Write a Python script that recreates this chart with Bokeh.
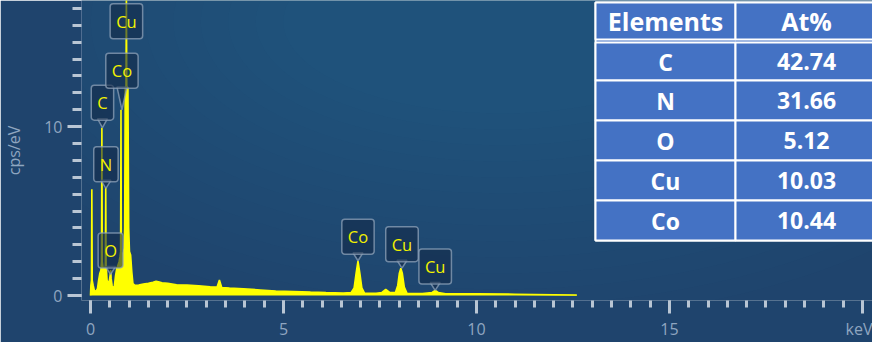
import math
from bokeh.plotting import figure
from bokeh.models import Range1d, FixedTicker, BoxAnnotation, Label, ColumnDataSource
from bokeh.core.properties import value
from bokeh.embed import file_html
from bokeh.resources import INLINE

# ---------------- data ----------------
energy_keV = [
    0.00, 0.01, 0.025, 0.035, 0.045, 0.07, 0.10, 0.14, 0.18, 0.21, 0.24, 0.27, 0.285, 0.295, 0.305,
    0.33, 0.36, 0.385, 0.395, 0.405, 0.43, 0.46, 0.49, 0.515, 0.525, 0.535, 0.56, 0.59, 0.62, 0.65,
    0.68, 0.71, 0.74, 0.765, 0.78, 0.79, 0.80, 0.82, 0.85, 0.87, 0.885, 0.90, 0.92, 0.93, 0.94,
    0.97, 0.99, 1.01, 1.04, 1.07, 1.10, 1.15, 1.25, 1.37, 1.50, 1.62, 1.70, 1.76, 1.85, 2.00,
    2.23, 2.50, 2.80, 3.10, 3.28, 3.34, 3.40, 3.60, 3.96, 4.40, 4.80, 5.25, 5.70, 6.10, 6.55,
    6.75, 6.83, 6.88, 6.93, 6.98, 7.03, 7.10, 7.40, 7.55, 7.65, 7.75, 7.90, 7.96, 8.00, 8.04,
    8.08, 8.13, 8.20, 8.60, 8.85, 8.93, 9.01, 9.20, 10.0, 11.0, 12.0, 12.6,
]
cps_per_eV = [
    0.0, 0.6, 0.9, 6.3, 0.9, 0.6, 0.3, 0.25, 0.4, 0.9, 1.3, 1.5, 2.0, 9.94, 2.0,
    1.6, 1.4, 1.8, 6.4, 1.8, 0.9, 0.7, 0.9, 1.3, 1.5, 1.0, 0.6, 0.4, 0.6, 1.2,
    1.6, 1.8, 2.0, 2.3, 2.6, 11.0, 2.6, 2.4, 2.5, 2.8, 4.0, 12.3, 12.4, 18.5, 12.4,
    12.3, 4.0, 2.6, 2.4, 1.4, 0.7, 0.6, 0.62, 0.68, 0.72, 0.78, 0.84, 0.82, 0.76, 0.72,
    0.64, 0.62, 0.58, 0.52, 0.50, 0.92, 0.48, 0.44, 0.40, 0.33, 0.27, 0.24, 0.20, 0.17, 0.15,
    0.17, 0.45, 1.3, 2.06, 1.3, 0.45, 0.15, 0.13, 0.18, 0.36, 0.18, 0.18, 0.6, 1.3, 1.62,
    1.3, 0.5, 0.13, 0.12, 0.18, 0.30, 0.18, 0.11, 0.10, 0.08, 0.05, 0.03,
]

label_text = ["C", "N", "O", "Co", "Cu", "Co", "Cu", "Cu"]
label_keV = [0.31, 0.40, 0.52, 0.815, 0.93, 6.93, 8.07, 8.93]
label_tip_cps = [9.94, 6.35, 1.25, 11.0, 15.3, 2.06, 1.62, 0.30]
label_pointer_px = [9, 8, 8, 23, 0, 8, 8, 8]

x_major_ticks = [0, 5, 10, 15, 20]
x_minor_ticks = [0.5 * i for i in range(41)]
x_tick_overrides = {20: "keV"}
y_major_ticks = [0, 10]
y_minor_ticks = list(range(0, 18))

table_header = ["Elements", "At%"]
table_elements = ["C", "N", "O", "Cu", "Co"]
table_at_pct = ["42.74", "31.66", "5.12", "10.03", "10.44"]

# ---------------- layout / style ----------------
W, H = 872, 342
BL, BB, BT, BR = 80, 40, 0, 0
X0, X1 = -0.233, 20.26
Y0, Y1 = -0.294, 17.47
BG = "#1f446d"
YELLOW = "#ffff00"
TICK = "#b9c6d4"
TLAB = "#8fa6c0"
FONT = "Open Sans"
BOX_FILL = "#132a47"
BOX_LINE = "#8ea2b8"

p = figure(width=W, height=H, output_backend="svg", toolbar_location=None,
           x_range=Range1d(X0, X1), y_range=Range1d(Y0, Y1),
           min_border_left=BL, min_border_right=BR, min_border_top=BT, min_border_bottom=BB,
           background_fill_color=BG, border_fill_color=BG, outline_line_color=None)
p.grid.visible = False

# soft glow of the panel background (many faint rings -> smooth gradient)
frame_w, frame_h = W - BL - BR, H - BT - BB
n_glow = 14
glow_w = [1150 - 55 * i for i in range(n_glow)]
glow_h = [600 - 32 * i for i in range(n_glow)]
p.ellipse(x=X0 + 0.53 * (X1 - X0), y=Y0 + 0.93 * (Y1 - Y0), width=glow_w, height=glow_h,
          width_units="screen", height_units="screen",
          fill_color="#3f7cab", fill_alpha=0.025, line_color=None)

# spectrum
src = ColumnDataSource(dict(e=energy_keV, c=cps_per_eV))
p.varea(x="e", y1=0, y2="c", source=src, fill_color=YELLOW, fill_alpha=1.0)
p.line(x="e", y="c", source=src, line_color=YELLOW, line_width=1.6)

# label callouts: pointer (V) + box
px_per_cps = frame_h / (Y1 - Y0)
px_per_keV = frame_w / (X1 - X0)
hw = 5 / px_per_keV
ptr_xs, ptr_ys = [], []
for k, t, L in zip(label_keV, label_tip_cps, label_pointer_px):
    if L > 0:
        base = t + L / px_per_cps
        ptr_xs.append([k - hw, k + hw, k])
        ptr_ys.append([base, base, t])
p.patches(xs=ptr_xs, ys=ptr_ys, fill_color=BOX_FILL, fill_alpha=0.6,
          line_color=BOX_LINE, line_alpha=0.75, line_width=1.5)

half_box = 16
lab_src = ColumnDataSource(dict(x=label_keV, y=label_tip_cps, t=label_text,
                                yo=[-(L + half_box) for L in label_pointer_px]))
p.text(x="x", y="y", text="t", source=lab_src, text_color="#f2f200",
       text_font=value(FONT), text_font_size="16.5px", text_align="center", text_baseline="middle",
       y_offset="yo", background_fill_color=BOX_FILL, background_fill_alpha=0.6,
       border_line_color=BOX_LINE, border_line_alpha=0.75, border_line_width=1.5,
       padding=dict(x=6, y=6), border_radius=3)

# axes
xa = p.xaxis[0]
xa.ticker = FixedTicker(ticks=x_major_ticks, minor_ticks=x_minor_ticks)
xa.major_label_overrides = x_tick_overrides
ya = p.yaxis[0]
ya.ticker = FixedTicker(ticks=y_major_ticks, minor_ticks=y_minor_ticks)
ya.axis_label = "cps/eV"
for ax in (xa, ya):
    ax.axis_line_color = None
    ax.major_tick_line_color = TICK
    ax.minor_tick_line_color = TICK
    ax.major_tick_line_width = 3
    ax.minor_tick_line_width = 3
    ax.major_tick_in = 0
    ax.minor_tick_in = 0
    ax.major_label_text_color = TLAB
    ax.major_label_text_font = FONT
    ax.major_label_text_font_size = "16px"
    ax.axis_label_text_color = TLAB
    ax.axis_label_text_font = FONT
    ax.axis_label_text_font_size = "16px"
    ax.axis_label_text_font_style = "normal"
xa.major_tick_out = 13
xa.minor_tick_out = 7
xa.major_label_standoff = 4
ya.major_tick_out = 14
ya.minor_tick_out = 9
ya.major_label_standoff = 5
ya.axis_label_standoff = 16

# results table (overlay, positioned in frame pixel units)
FL, FB = 8 + BL, 8 + H - BB        # frame left / bottom in page pixels
def sx(px):
    return px - FL
def sy(py):
    return FB - py

col_edges = [602, 742, 884]
row_edges = [(12, 49)] + [(a, b) for a, b in zip([52, 90, 130, 170, 210], [90, 130, 170, 210, 250])]
CELL = "#4472c4"
p.add_layout(BoxAnnotation(left=sx(col_edges[0]), right=sx(col_edges[-1]), top=sy(12), bottom=sy(250),
                           left_units="screen", right_units="screen", top_units="screen", bottom_units="screen",
                           fill_color=CELL, fill_alpha=1.0, line_color="white", line_alpha=1.0, line_width=2))
rows = [table_header] + [[e, v] for e, v in zip(table_elements, table_at_pct)]
for r, ((top, bot), cells) in enumerate(zip(row_edges, rows)):
    for c in range(2):
        p.add_layout(BoxAnnotation(left=sx(col_edges[c]), right=sx(col_edges[c + 1]), top=sy(top), bottom=sy(bot),
                                   left_units="screen", right_units="screen", top_units="screen", bottom_units="screen",
                                   fill_color=CELL, fill_alpha=1.0, line_color="white", line_alpha=1.0, line_width=2))
        p.add_layout(Label(x=sx((col_edges[c] + col_edges[c + 1]) / 2), y=sy((top + bot) / 2),
                           x_units="screen", y_units="screen", text=cells[c],
                           text_align="center", text_baseline="middle", text_color="white",
                           text_font=FONT, text_font_style="bold",
                           text_font_size="25px" if r == 0 else "23px"))

open("out.html", "w").write(file_html(p, INLINE))
